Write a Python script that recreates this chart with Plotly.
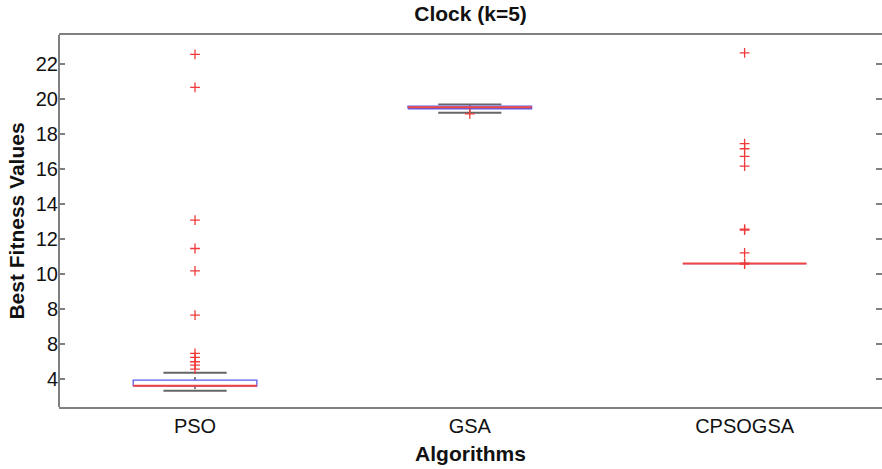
import plotly.graph_objects as go

# Algorithms compared and their box-plot summary statistics
algorithms = ["PSO", "GSA", "CPSOGSA"]
q1 = [3.57, 19.44, 10.58]
median = [3.58, 19.53, 10.58]
q3 = [3.91, 19.59, 10.58]
lower_whisker = [3.30, 19.21, 10.58]
upper_whisker = [4.33, 19.69, 10.58]

# Outlier runs for each algorithm
outliers_pso = [22.55, 20.66, 13.06, 11.44, 10.16, 7.63, 5.44, 5.21, 4.96, 4.77, 4.54]
outliers_gsa = [19.15]
outliers_cpsogsa = [22.64, 17.44, 17.15, 16.71, 16.16, 12.55, 12.50, 11.19, 10.60, 10.55]
outliers = [outliers_pso, outliers_gsa, outliers_cpsogsa]

# Y tick values and their printed labels
y_tickvals = [4, 6, 8, 10, 12, 14, 16, 18, 20, 22]
y_ticktext = ["4", "8", "8", "10", "12", "14", "16", "18", "20", "22"]

BOX_HALF = 0.225
CAP_HALF = 0.115
FONT = "Liberation Sans, Arial, Helvetica, sans-serif"

fig = go.Figure()

for i, name in enumerate(algorithms):
    x = i + 1
    # dashed whisker stems
    fig.add_trace(go.Scatter(
        x=[x, x, None, x, x],
        y=[q3[i], upper_whisker[i], None, q1[i], lower_whisker[i]],
        mode="lines", line=dict(color="#333333", width=1.2, dash="dot"),
        hoverinfo="skip", showlegend=False))
    # whisker caps (omitted where the whisker collapses onto the box)
    cap_x, cap_y = [], []
    if upper_whisker[i] > q3[i]:
        cap_x += [x - CAP_HALF, x + CAP_HALF, None]
        cap_y += [upper_whisker[i], upper_whisker[i], None]
    if lower_whisker[i] < q1[i]:
        cap_x += [x - CAP_HALF, x + CAP_HALF, None]
        cap_y += [lower_whisker[i], lower_whisker[i], None]
    if cap_x:
        fig.add_trace(go.Scatter(
            x=cap_x, y=cap_y,
            mode="lines", line=dict(color="#666666", width=1.8),
            hoverinfo="skip", showlegend=False))
    # interquartile box
    fig.add_trace(go.Scatter(
        x=[x - BOX_HALF, x + BOX_HALF, x + BOX_HALF, x - BOX_HALF, x - BOX_HALF],
        y=[q1[i], q1[i], q3[i], q3[i], q1[i]],
        mode="lines", line=dict(color="#5a5ae8", width=1.3),
        hoverinfo="skip", showlegend=False))
    # median
    fig.add_trace(go.Scatter(
        x=[x - BOX_HALF, x + BOX_HALF],
        y=[median[i], median[i]],
        mode="lines", line=dict(color="#f04545", width=2),
        hoverinfo="skip", showlegend=False))
    # outliers
    fig.add_trace(go.Scatter(
        x=[x] * len(outliers[i]), y=outliers[i],
        mode="markers",
        marker=dict(symbol="cross-thin", size=7, line=dict(color="#f03a3a", width=1.3)),
        hoverinfo="skip", showlegend=False))

axis_line = "#808080"

fig.update_layout(
    width=882, height=469,
    margin=dict(l=59, r=0, t=35, b=62),
    paper_bgcolor="white", plot_bgcolor="white",
    font=dict(family=FONT, size=20, color="#111111"),
    title=dict(text="<b>Clock (k=5)</b>", x=0.5335, xanchor="center",
               y=0.97, yanchor="middle", font=dict(size=21, family=FONT)),
    xaxis=dict(
        range=[0.505, 3.5], tickvals=[1, 2, 3], ticktext=algorithms,
        showgrid=False, zeroline=False, showline=True, linecolor=axis_line,
        linewidth=2, mirror=True, ticks="",
        tickfont=dict(size=20),
        title=dict(text="<b>Algorithms</b>", font=dict(size=21), standoff=10),
    ),
    yaxis=dict(
        range=[2.37, 23.66], tickvals=y_tickvals, ticktext=y_ticktext,
        showgrid=False, zeroline=False, showline=False,
        mirror="ticks", ticks="inside", ticklen=6,
        tickcolor=axis_line, tickwidth=1.5,
        tickfont=dict(size=20),
        title=dict(text="<b>Best Fitness Values</b>", font=dict(size=21), standoff=5),
    ),
    # left frame edge of the plotting area
    shapes=[dict(type="line", xref="paper", yref="paper", x0=0, x1=0, y0=0, y1=1,
                 line=dict(color=axis_line, width=2))],
)

fig.write_html("out.html")
